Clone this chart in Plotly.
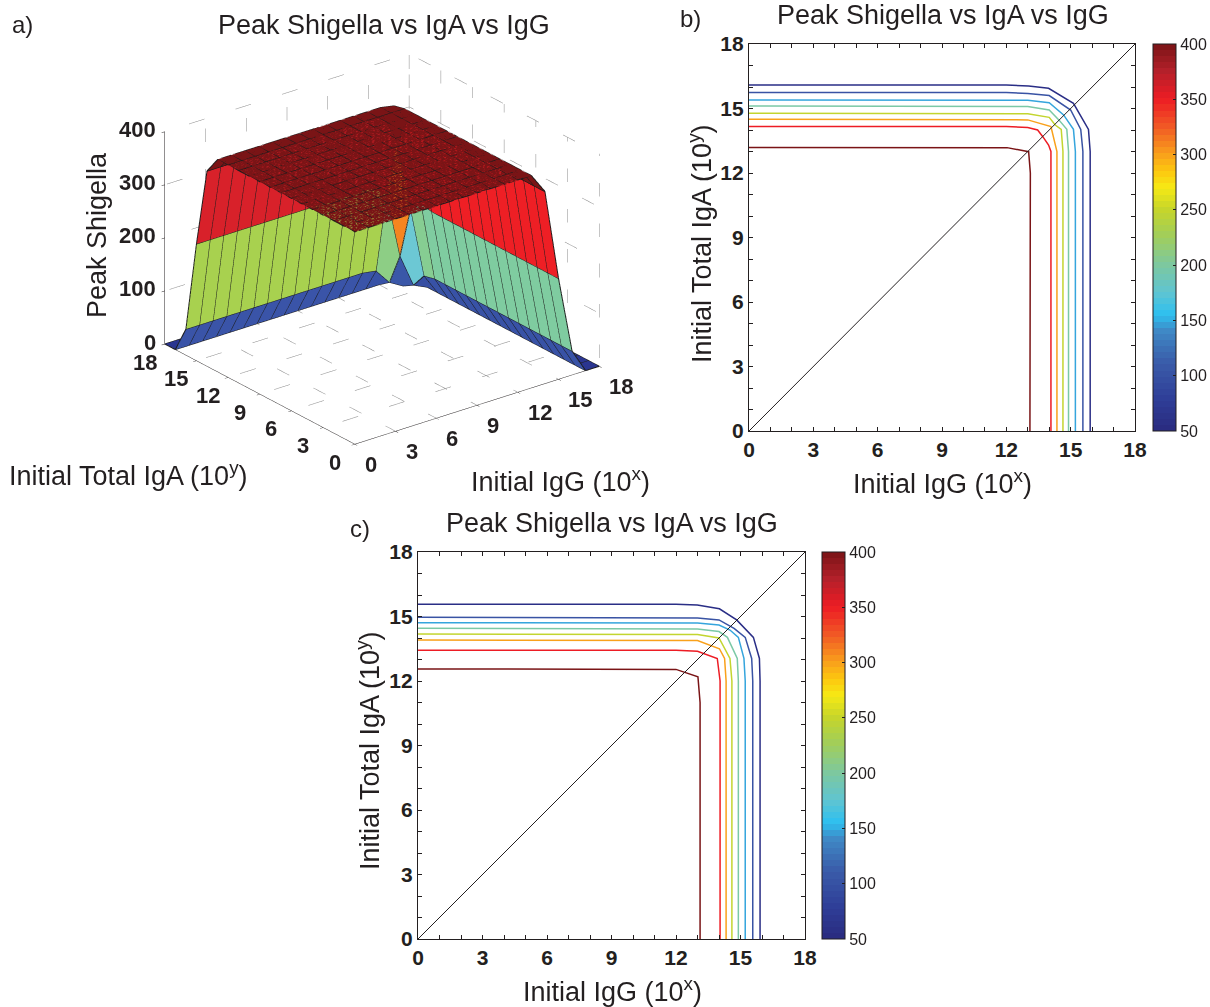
import plotly.graph_objects as go

W, H = 1210, 1007
FONT = "Liberation Sans"

# grid of the surface (panel a)
GRID = list(range(19))
SURFACE_Z = [
    [400,400,400,400,400,400,400,400,400,400,400,400,400,400,362,190,45,0,0],
    [400,400,400,400,400,400,400,400,400,400,400,400,400,400,362,190,45,0,0],
    [400,400,400,400,400,400,400,400,400,400,400,400,400,400,362,190,45,0,0],
    [400,400,400,400,400,400,400,400,400,400,400,400,400,400,362,190,45,0,0],
    [400,400,400,400,400,400,400,400,400,400,400,400,400,400,362,190,45,0,0],
    [400,400,400,400,400,400,400,400,400,400,400,400,400,400,362,190,45,0,0],
    [400,400,400,400,400,400,400,400,400,400,400,400,400,400,362,190,45,0,0],
    [400,400,400,400,400,400,400,400,400,400,400,400,400,400,362,190,45,0,0],
    [400,400,400,400,400,400,400,400,400,400,400,400,400,400,362,190,45,0,0],
    [400,400,400,400,400,400,400,400,400,400,400,400,400,400,362,190,45,0,0],
    [400,400,400,400,400,400,400,400,400,400,400,400,400,400,362,190,45,0,0],
    [400,400,400,400,400,400,400,400,400,400,400,400,400,400,362,190,45,0,0],
    [400,400,400,400,400,400,400,400,400,400,400,400,400,400,362,190,45,0,0],
    [400,400,400,400,400,400,400,400,400,400,400,400,400,395,360,195,45,0,0],
    [368,368,368,368,368,368,368,368,368,368,368,368,368,365,310,175,40,0,0],
    [220,220,220,220,220,220,220,220,220,220,220,220,220,220,200,75,12,0,0],
    [49,49,49,49,49,49,49,49,49,49,49,49,49,49,45,15,0,0,0],
    [0,0,0,0,0,0,0,0,0,0,0,0,0,0,0,0,0,0,0],
    [0,0,0,0,0,0,0,0,0,0,0,0,0,0,0,0,0,0,0],
]

LEVELS = [50, 100, 150, 200, 250, 300, 350, 400]
LEVEL_COLORS = ["#2a2e86", "#3953a4", "#35a5dd", "#7bc9a6", "#c3d52f", "#f9a11b", "#ed1c24", "#7a1416"]

# contour paths, panel b
B_X = {
    50: [0, 12, 13.04, 13.97, 15.13, 15.83, 15.91, 15.91],
    100: [0, 12, 13, 14, 15, 15.47, 15.57, 15.57],
    150: [0, 12, 13, 14, 14.67, 15.13, 15.22, 15.22],
    200: [0, 12, 13, 14, 14.45, 14.82, 14.9, 14.9],
    250: [0, 12, 13, 14, 14.28, 14.56, 14.64, 14.64],
    300: [0, 12, 13, 14.08, 14.23, 14.36, 14.36],
    350: [0, 12, 13, 13.46, 13.7, 13.97, 14.08, 14.08],
    400: [0, 12.03, 13.04, 13.12, 13.1],
}
B_Y = {
    50: [16.09, 16.09, 16.05, 15.94, 15.24, 14.03, 13, 0],
    100: [15.74, 15.74, 15.7, 15.6, 14.93, 14.03, 13, 0],
    150: [15.4, 15.4, 15.38, 15.27, 14.7, 14.03, 13, 0],
    200: [15.12, 15.12, 15.09, 14.93, 14.47, 14.03, 13, 0],
    250: [14.78, 14.78, 14.76, 14.59, 14.23, 14.03, 13, 0],
    300: [14.5, 14.5, 14.47, 14.16, 13.53, 13, 0],
    350: [14.16, 14.16, 14.12, 14, 13.69, 13.3, 13, 0],
    400: [13.19, 13.18, 12.99, 12, 0],
}
# contour paths, panel c
C_X = {
    50: [0, 12, 12.99, 14.02, 14.82, 15.6, 15.88, 15.91, 15.91],
    100: [0, 12, 13, 14, 14.7, 15.22, 15.52, 15.57, 15.57],
    150: [0, 12, 13, 14, 14.51, 14.9, 15.16, 15.22, 15.22],
    200: [0, 12, 13, 14, 14.39, 14.85, 14.9, 14.9],
    250: [0, 12, 13, 14, 14.51, 14.6, 14.6],
    300: [0, 12, 13, 14.02, 14.26, 14.33, 14.33],
    350: [0, 12, 13, 13.92, 14.05, 14.05],
    400: [0, 12, 13.02, 13.12, 13.12],
}
C_Y = {
    50: [15.57, 15.57, 15.53, 15.36, 14.84, 14.03, 13.05, 12, 0],
    100: [14.96, 14.96, 14.93, 14.84, 14.45, 14.03, 13.05, 12, 0],
    150: [14.71, 14.71, 14.7, 14.6, 14.37, 14.03, 13.05, 12, 0],
    200: [14.45, 14.45, 14.42, 14.3, 14.03, 13.05, 12, 0],
    250: [14.19, 14.19, 14.16, 14.0, 13.05, 12, 0],
    300: [13.91, 13.91, 13.88, 13.5, 13.05, 12, 0],
    350: [13.43, 13.43, 13.38, 13.05, 12, 0],
    400: [12.56, 12.54, 12.2, 11, 0],
}
DIAG = [0, 18]

SCALE_STOPS = [
    (50, "#2a2a7f"), (80, "#2f3f98"), (110, "#3a5aa8"), (140, "#3f88c5"), (155, "#2dc0f0"),
    (175, "#5fc4d2"), (200, "#7cc8a0"), (230, "#a6cf52"), (250, "#c6d52b"), (270, "#f6e914"),
    (285, "#fdc70f"), (300, "#f9a11b"), (325, "#f15a25"), (350, "#ed1c24"), (375, "#b4202a"),
    (400, "#7a1416"),
]
SCALE3D_STOPS = [(0, "#2a3590"), (50, "#3a55a8"), (110, "#3a5aa8"), (140, "#3f88c5"), (175, "#6cc8d4"),
                 (190, "#7fcca0"), (220, "#a8d14f"), (270, "#f6e914"), (300, "#f9a11b"), (325, "#f15a25"),
                 (362, "#ee1f25"), (368, "#d8212a"), (385, "#b0202a"), (395, "#7a1416"), (400, "#7a1416")]
ROOF_MIN = 395
ROOF_COLOR = "#7a1416"


def rgb(h):
    return tuple(int(h[i:i + 2], 16) for i in (1, 3, 5))


def sample(stops, v):
    for (a, ca), (b, cb) in zip(stops, stops[1:]):
        if v <= b:
            t = (v - a) / (b - a)
            ra, rb = rgb(ca), rgb(cb)
            return "rgb(%d,%d,%d)" % tuple(round(p + (q - p) * t) for p, q in zip(ra, rb))
    return stops[-1][1]


def stepped(stops, n=64):
    lo, hi = stops[0][0], stops[-1][0]
    out = []
    for k in range(n):
        c = sample(stops, lo + (hi - lo) * (k + 0.5) / n)
        out += [[k / n, c], [(k + 1) / n, c]]
    return out


def px(x):
    return x / W


def py(y):
    return 1 - y / H


ASPECT = dict(x=1.29, y=1.29, z=0.97)
EYE = dict(x=-2.8, y=-3.6, z=2.05)

fig = go.Figure()

# --- panel a: faceted surface. The roof goes in a second scene laid over the first,
# since the walls otherwise show through it.
n = len(GRID)
FLAT = dict(ambient=1, diffuse=0, specular=0, roughness=1, fresnel=0)


def view_depth(cell):
    j, i = cell
    z = sum(SURFACE_Z[a][b] for a, b in ((j, i), (j, i + 1), (j + 1, i), (j + 1, i + 1))) / 4
    return (i + 0.5) / 18 * ASPECT["x"] * EYE["x"] + (j + 0.5) / 18 * ASPECT["y"] * EYE["y"] + z / 400 * ASPECT["z"] * EYE["z"]


def add_edges(cells, scene):
    lx, ly, lz = [], [], []
    for j, i in cells:
        corners = ((j, i), (j, i + 1), (j + 1, i + 1), (j + 1, i), (j, i))
        for jj, ii in corners:
            lx.append(GRID[ii]); ly.append(GRID[jj]); lz.append(SURFACE_Z[jj][ii])
        lx.append(None); ly.append(None); lz.append(None)
    fig.add_trace(go.Scatter3d(x=lx, y=ly, z=lz, mode="lines", line=dict(color="#1c1c1c", width=2),
                               scene=scene, hoverinfo="skip", showlegend=False))


all_cells = [(j, i) for j in range(n - 1) for i in range(n - 1)]
wall_cells = sorted([c for c in all_cells if SURFACE_Z[c[0]][c[1]] < ROOF_MIN], key=view_depth)
roof_cells = [c for c in all_cells if SURFACE_Z[c[0]][c[1]] >= ROOF_MIN]

vx, vy, vz, fi, fj, fk, cols = [], [], [], [], [], [], []
for j, i in wall_cells:
    base = len(vx)
    for jj, ii in ((j, i), (j, i + 1), (j + 1, i + 1), (j + 1, i)):
        vx.append(GRID[ii]); vy.append(GRID[jj]); vz.append(SURFACE_Z[jj][ii])
    fi += [base, base]; fj += [base + 1, base + 2]; fk += [base + 2, base + 3]
    cols += [sample(SCALE3D_STOPS, SURFACE_Z[j][i])] * 2
fig.add_trace(go.Mesh3d(x=vx, y=vy, z=vz, i=fi, j=fj, k=fk, facecolor=cols, flatshading=True,
                        lighting=FLAT, scene="scene", hoverinfo="skip"))
add_edges(wall_cells, "scene")

# dotted box grid
TICKS3 = [0, 3, 6, 9, 12, 15, 18]
ZTICKS = [0, 100, 200, 300, 400]
gx, gy, gz = [], [], []
for t in TICKS3:
    gx += [t, t, t, None]; gy += [0, 18, 18, None]; gz += [0, 0, 400, None]
    gx += [0, 18, 18, None]; gy += [t, t, t, None]; gz += [0, 0, 400, None]
for t in ZTICKS:
    gx += [0, 18, 18, None]; gy += [18, 18, 0, None]; gz += [t, t, t, None]
fig.add_trace(go.Scatter3d(x=gx, y=gy, z=gz, mode="lines", line=dict(color="#8a8a8a", width=1, dash="dot"),
                           scene="scene", hoverinfo="skip", showlegend=False))

# roof: one colour, one surface
roof_n = max(c[0] for c in roof_cells) + 2
fig.add_trace(go.Surface(
    x=GRID[:roof_n], y=GRID[:roof_n], z=[row[:roof_n] for row in SURFACE_Z[:roof_n]],
    surfacecolor=[[1] * roof_n for _ in range(roof_n)], cmin=0, cmax=1,
    colorscale=[[0, ROOF_COLOR], [1, ROOF_COLOR]], showscale=False, lighting=FLAT,
    scene="scene2", hoverinfo="skip"))
add_edges(roof_cells, "scene2")

axis3 = dict(showbackground=False, showgrid=False, zeroline=False, showline=True, linecolor="#231f20",
             linewidth=1, ticks="outside", tickcolor="#231f20", ticklen=4, showticklabels=False,
             title=dict(text=""), showspikes=False)
tf3 = dict(family=FONT, size=22, color="#231f20", weight="bold")
tick_notes = []
for t in TICKS3:
    tick_notes.append(dict(x=t, y=0, z=0, text=str(t), showarrow=False, xanchor="left", xshift=8, yshift=-20, font=tf3))
    tick_notes.append(dict(x=0, y=t, z=0, text=str(t), showarrow=False, xshift=-20, yshift=-18, font=tf3))
for t in ZTICKS:
    tick_notes.append(dict(x=0, y=18, z=t, text=str(t), showarrow=False, xanchor="right", xshift=-7, yshift=2, font=tf3))
domain3 = dict(x=[px(82), px(682)], y=[py(489), py(9)])
camera3 = dict(projection=dict(type="orthographic"), center=dict(x=0, y=0, z=0), up=dict(x=0, y=0, z=1), eye=EYE)
fig.update_layout(
    scene=dict(
        domain=domain3,
        xaxis=dict(axis3, range=[0, 18], tickvals=TICKS3),
        yaxis=dict(axis3, range=[0, 18], tickvals=TICKS3),
        zaxis=dict(axis3, range=[0, 400], tickvals=ZTICKS),
        aspectmode="manual", aspectratio=ASPECT, annotations=tick_notes, camera=camera3,
    ),
    scene2=dict(
        domain=domain3,
        xaxis=dict(visible=False, range=[0, 18]),
        yaxis=dict(visible=False, range=[0, 18]),
        zaxis=dict(visible=False, range=[0, 400]),
        aspectmode="manual", aspectratio=ASPECT, camera=camera3, bgcolor="rgba(0,0,0,0)",
    ),
)


# --- panels b and c
def panel(xs, ys, xa, ya, left, right, top, bottom):
    for lev, col in zip(LEVELS, LEVEL_COLORS):
        fig.add_trace(go.Scatter(x=xs[lev], y=ys[lev], mode="lines", line=dict(color=col, width=1.5),
                                 xaxis=xa, yaxis=ya, showlegend=False, hoverinfo="skip"))
    fig.add_trace(go.Scatter(x=DIAG, y=DIAG, mode="lines", line=dict(color="#231f20", width=1),
                             xaxis=xa, yaxis=ya, showlegend=False, hoverinfo="skip"))
    ax = dict(range=[0, 18], dtick=3, tick0=0, ticks="inside", ticklen=4, tickcolor="#231f20", tickwidth=1,
              minor=dict(dtick=1, ticks="inside", ticklen=4, tickcolor="#231f20", tickwidth=1),
              mirror="ticks", showline=True, linecolor="#231f20", linewidth=1.2, showgrid=False, zeroline=False,
              tickfont=dict(family=FONT, size=21, color="#231f20", weight="bold"), fixedrange=True)
    name = xa.replace("x", "xaxis")
    yname = ya.replace("y", "yaxis")
    fig.update_layout({name: dict(ax, domain=[px(left), px(right)], anchor=ya),
                       yname: dict(ax, domain=[py(bottom), py(top)], anchor=xa)})


panel(B_X, B_Y, "x", "y", 749, 1135, 44, 431)
panel(C_X, C_Y, "x2", "y2", 418, 805, 552, 939)


def colorbar(xa, ya, left, top, length):
    fig.add_trace(go.Scatter(
        x=[0], y=[0], mode="markers", xaxis=xa, yaxis=ya, showlegend=False, hoverinfo="skip",
        marker=dict(size=1, opacity=0, color=[400], cmin=50, cmax=400, colorscale=stepped(SCALE_STOPS, 64), showscale=True,
                    colorbar=dict(x=px(left), xanchor="left", y=py(top), yanchor="top",
                                  lenmode="pixels", len=length, thicknessmode="pixels", thickness=23,
                                  xpad=0, ypad=0, outlinecolor="#231f20", outlinewidth=1, ticks="inside",
                                  tickcolor="#231f20", ticklen=3, tick0=50, dtick=50,
                                  tickfont=dict(family=FONT, size=16, color="#231f20")))))


colorbar("x", "y", 1153, 44, 387)
colorbar("x2", "y2", 822, 552, 387)

TITLE = "Peak Shigella vs IgA vs IgG"
XT = "Initial IgG (10<sup>x</sup>)"
YT = "Initial Total IgA (10<sup>y</sup>)"
TEXTS = [
    ("a)", 22, 24, 0, 24), ("b)", 690, 19, 0, 24), ("c)", 360, 528, 0, 24),
    (TITLE, 384, 25, 0, 27), (TITLE, 943, 15, 0, 27), (TITLE, 612, 523, 0, 27),
    ("Peak Shigella", 97, 235, -90, 27),
    (YT, 128, 474, 0, 27), (XT, 560, 480, 0, 27),
    (XT, 942, 482, 0, 27), (YT, 700, 244, -90, 27),
    (XT, 612, 990, 0, 27), (YT, 368, 750, -90, 27),
]
fig.update_layout(annotations=[
    dict(text=t, x=px(x), y=py(y), xref="paper", yref="paper", xanchor="center", yanchor="middle",
         textangle=a, showarrow=False, font=dict(family=FONT, size=s, color="#231f20"))
    for t, x, y, a, s in TEXTS
])
fig.update_layout(width=W, height=H, margin=dict(l=0, r=0, t=0, b=0, autoexpand=False), paper_bgcolor="white",
                  plot_bgcolor="white", showlegend=False)
fig.write_html("out.html", post_script="document.body.style.margin='0';", config=dict(displayModeBar=False))
